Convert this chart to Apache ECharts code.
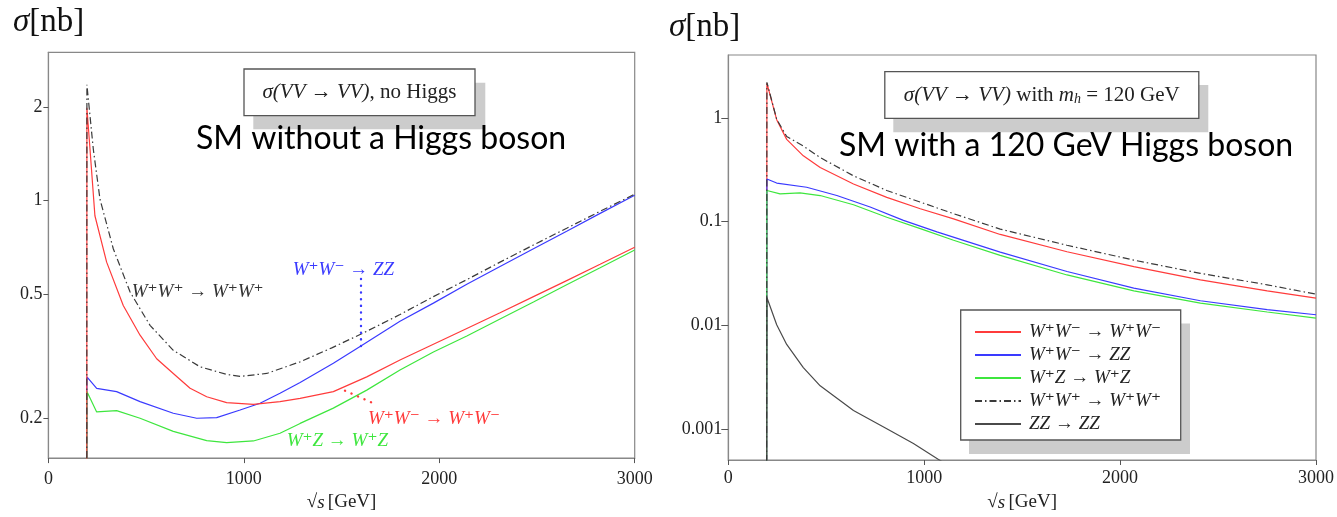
<!DOCTYPE html>
<html><head><meta charset="utf-8">
<script src="https://cdn.jsdelivr.net/npm/echarts@6/dist/echarts.min.js"></script>
<style>html,body{margin:0;padding:0;background:#fff}#c{width:1337px;height:517px}</style>
</head><body><div id="c"></div>
<script>
// ---------- tick labels ----------
const xTicks = [0, 1000, 2000, 3000];
const xTickLabels = ['0', '1000', '2000', '3000'];
const leftYTickValues = [0.2, 0.5, 1, 2];
const leftYTickLabels = ['0.2', '0.5', '1', '2'];
const rightYTickValues = [0.001, 0.01, 0.1, 1];
const rightYTickLabels = ['0.001', '0.01', '0.1', '1'];
const leftYRange = [0.1485, 3.0];
const rightYRange = [0.0005, 4.04];

// ---------- series names ----------
const names = ['W⁺W⁻ → W⁺W⁻', 'W⁺W⁻ → ZZ', 'W⁺Z → W⁺Z', 'W⁺W⁺ → W⁺W⁺', 'ZZ → ZZ'];

// ---------- left panel: SM without a Higgs boson ----------
const noH_WWWW_x = [195, 197, 213, 238, 298, 383, 469, 554, 639, 725, 810, 912, 1049, 1185, 1288, 1458, 1629, 1799, 1970, 2141, 2311, 2482, 2652, 2823, 3000];
const noH_WWWW_y = [0.0001, 1.99, 1.46, 0.894, 0.634, 0.46, 0.369, 0.310, 0.278, 0.249, 0.234, 0.224, 0.221, 0.2256, 0.231, 0.243, 0.271, 0.307, 0.345, 0.388, 0.436, 0.491, 0.553, 0.624, 0.708];

const noH_WWZZ_x = [195, 197, 247, 349, 469, 639, 759, 861, 981, 1083, 1185, 1288, 1458, 1603, 1799, 1970, 2141, 2311, 2482, 2652, 2823, 3000];
const noH_WWZZ_y = [0.0001, 0.271, 0.249, 0.243, 0.2256, 0.207, 0.1995, 0.2004, 0.212, 0.223, 0.240, 0.260, 0.300, 0.342, 0.409, 0.468, 0.538, 0.614, 0.700, 0.797, 0.910, 1.04];

const noH_WZWZ_x = [195, 197, 247, 349, 469, 639, 810, 912, 1049, 1185, 1288, 1458, 1629, 1799, 1970, 2141, 2311, 2482, 2652, 2823, 3000];
const noH_WZWZ_y = [0.0001, 0.243, 0.209, 0.211, 0.1995, 0.181, 0.169, 0.1666, 0.1686, 0.1785, 0.192, 0.215, 0.2457, 0.285, 0.326, 0.367, 0.416, 0.472, 0.536, 0.608, 0.694];

const noH_WpWp_x = [195, 197, 230, 264, 332, 418, 520, 639, 776, 912, 981, 1117, 1288, 1450, 1603, 1799, 1970, 2141, 2311, 2482, 2652, 2823, 3000];
const noH_WpWp_y = [0.0001, 2.36, 1.46, 1.01, 0.70, 0.508, 0.397, 0.330, 0.292, 0.276, 0.272, 0.278, 0.303, 0.336, 0.373, 0.430, 0.491, 0.557, 0.634, 0.720, 0.815, 0.924, 1.049];

// ---------- right panel: SM with a 120 GeV Higgs boson ----------
const H_WWWW_x = [195, 197, 247, 298, 383, 469, 639, 809, 980, 1150, 1388, 1729, 2070, 2410, 2751, 3000];
const H_WWWW_y = [0.00001, 2.16, 0.96, 0.62, 0.43, 0.332, 0.230, 0.171, 0.1327, 0.106, 0.0750, 0.0511, 0.0367, 0.0273, 0.0214, 0.0182];

const H_WWZZ_x = [195, 197, 247, 400, 554, 724, 894, 1065, 1388, 1729, 2070, 2410, 2751, 3000];
const H_WWZZ_y = [0.00001, 0.257, 0.235, 0.214, 0.178, 0.138, 0.1026, 0.0794, 0.0506, 0.0329, 0.0228, 0.0172, 0.0141, 0.0126];

const H_WZWZ_x = [195, 197, 264, 366, 469, 639, 809, 980, 1150, 1388, 1729, 2070, 2410, 2751, 3000];
const H_WZWZ_y = [0.00001, 0.199, 0.1845, 0.1886, 0.178, 0.145, 0.110, 0.0853, 0.066, 0.0471, 0.0305, 0.0214, 0.0163, 0.0134, 0.0117];

const H_WpWp_x = [195, 197, 247, 298, 383, 469, 639, 809, 980, 1150, 1388, 1729, 2070, 2410, 2751, 3000];
const H_WpWp_y = [0.00001, 2.2, 0.97, 0.66, 0.535, 0.414, 0.276, 0.199, 0.154, 0.119, 0.0844, 0.059, 0.0424, 0.0316, 0.0245, 0.0199];

const H_ZZZZ_x = [195, 197, 247, 298, 383, 469, 639, 809, 945, 1073, 1200];
const H_ZZZZ_y = [0.00001, 0.0185, 0.0101, 0.00652, 0.0039, 0.0026, 0.0015, 0.0010, 0.00072, 0.000506, 0.00036];

// ---------- styling ----------
const RED = '#ff3b3b', BLUE = '#3a3aff', GREEN = '#3ee63e', DARK = '#3a3a3a', GRAY = '#4a4a4a';
const SERIF = "'Liberation Serif','DejaVu Serif',serif";
const SANS = "Lato, 'Open Sans', sans-serif";
const DASHDOT = [7, 3, 1.5, 3];

const L = Math.log10;
const pts = (xs, ys) => xs.map((x, i) => [x, L(ys[i])]);
function tickFmt(vals, labels, useLog) {
  return v => { for (let i = 0; i < vals.length; i++) {
    const t = useLog ? L(vals[i]) : vals[i];
    if (Math.abs(t - v) < 1e-6) return labels[i]; } return ''; };
}

function mkX(gi, labelMargin) {
  return {
    gridIndex: gi, type: 'value', min: 0, max: 3000, interval: 1000,
    axisLine: { onZero: false, lineStyle: { color: '#888', width: 1.2 } },
    axisTick: { length: 5, lineStyle: { color: '#555' } },
    axisLabel: { margin: labelMargin, fontFamily: SERIF, fontSize: 18, color: '#222',
      formatter: tickFmt(xTicks, xTickLabels, false) },
    splitLine: { show: false },
    name: '{r|√}{i|s} {r|[GeV]}', nameLocation: 'middle', nameGap: 33,
    nameTextStyle: { rich: {
      r: { fontFamily: SERIF, fontSize: 19, color: '#222' },
      i: { fontFamily: SERIF, fontSize: 19, fontStyle: 'italic', color: '#222' } } }
  };
}
function mkY(gi, range, vals, labels, tickLen) {
  const lv = vals.map(L);
  return {
    gridIndex: gi, type: 'value', min: L(range[0]), max: L(range[1]),
    axisLine: { show: true, onZero: false, lineStyle: { color: '#888', width: 1.2 } },
    axisTick: { show: true, length: tickLen, customValues: lv, lineStyle: { color: '#555' } },
    axisLabel: { customValues: lv, formatter: tickFmt(vals, labels, true), margin: 6,
      fontFamily: SERIF, fontSize: 18, color: '#222' },
    splitLine: { show: false }
  };
}
function line(name, gi, xs, ys, color, dash, width) {
  return {
    name, type: 'line', xAxisIndex: gi, yAxisIndex: gi, data: pts(xs, ys),
    symbol: 'none', smooth: false, clip: true, animation: false,
    lineStyle: { color, width: width || 1.2, type: dash || 'solid' },
    itemStyle: { color }
  };
}

const mathRich = {
  i: { fontFamily: SERIF, fontStyle: 'italic', fontSize: 21, fill: '#222' },
  r: { fontFamily: SERIF, fontSize: 21, fill: '#222' },
  s: { fontFamily: SERIF, fontStyle: 'italic', fontSize: 14, fill: '#222', padding: [9, 0, 0, 0] }
};
function txt(x, y, text, font, fill, align) {
  return { type: 'text', x, y, z: 30, style: { text, font, fill, align: align || 'left', verticalAlign: 'middle' } };
}
function rect(x, y, w, h, fill, stroke, z) {
  return { type: 'rect', z: z, shape: { x, y, width: w, height: h },
    style: { fill, stroke: stroke || null, lineWidth: stroke ? 1.3 : 0 } };
}
const sigmaRich = { i: { fontFamily: SERIF, fontStyle: 'italic', fontSize: 33, fill: '#111' },
                    r: { fontFamily: SERIF, fontSize: 33, fill: '#111' } };

const chart = echarts.init(document.getElementById('c'), null, { renderer: 'canvas' });
chart.setOption({
  animation: false,
  backgroundColor: '#fff',
  grid: [
    { left: 48.4, top: 52.3, width: 586.3, height: 407, show: true, borderColor: '#888', borderWidth: 1.2 },
    { left: 728.3, top: 55, width: 590.3, height: 407.7, show: true, borderColor: '#888', borderWidth: 1.2 }
  ],
  xAxis: [mkX(0, 12), mkX(1, 9)],
  yAxis: [
    mkY(0, leftYRange, leftYTickValues, leftYTickLabels, 5),
    mkY(1, rightYRange, rightYTickValues, rightYTickLabels, 7)
  ],
  legend: {
    data: names, orient: 'vertical', left: 974, top: 322.5, itemWidth: 46, itemHeight: 2, itemGap: 4,
    padding: 0, z: 40, backgroundColor: 'transparent', selectedMode: false,
    itemStyle: { opacity: 0 },
    textStyle: { fontFamily: SERIF, fontStyle: 'italic', fontSize: 19, lineHeight: 19, color: '#222', padding: [0, 0, 0, 3] }
  },
  series: [
    line('noHiggs ' + names[1], 0, noH_WWZZ_x, noH_WWZZ_y, BLUE),
    line('noHiggs ' + names[2], 0, noH_WZWZ_x, noH_WZWZ_y, GREEN),
    line('noHiggs ' + names[0], 0, noH_WWWW_x, noH_WWWW_y, RED),
    line('noHiggs ' + names[3], 0, noH_WpWp_x, noH_WpWp_y, DARK, DASHDOT, 1.2),
    line(names[0], 1, H_WWWW_x, H_WWWW_y, RED),
    line(names[1], 1, H_WWZZ_x, H_WWZZ_y, BLUE),
    line(names[2], 1, H_WZWZ_x, H_WZWZ_y, GREEN),
    line(names[4], 1, H_ZZZZ_x, H_ZZZZ_y, GRAY),
    line(names[3], 1, H_WpWp_x, H_WpWp_y, DARK, DASHDOT, 1.2)
  ],
  graphic: { elements: [
    // sigma [nb] axis titles
    { type: 'text', x: 13, y: 22, z: 30, style: { text: '{i|σ}{r|[nb]}', verticalAlign: 'middle', rich: sigmaRich } },
    { type: 'text', x: 669, y: 27, z: 30, style: { text: '{i|σ}{r|[nb]}', verticalAlign: 'middle', rich: sigmaRich } },

    // left annotation box
    rect(253.3, 82.7, 232, 46.6, '#cccccc', null, 20),
    rect(244, 69, 231, 46.7, '#ffffff', '#555', 21),
    { type: 'text', x: 359.5, y: 92.5, z: 30, style: { text: '{i|σ(VV → VV)}{r|, no Higgs}', align: 'center', verticalAlign: 'middle', rich: mathRich } },

    // right annotation box
    rect(893.3, 85, 315, 47.3, '#cccccc', null, 20),
    rect(884.8, 71.7, 314, 46.6, '#ffffff', '#555', 21),
    { type: 'text', x: 1041.8, y: 95, z: 30, style: { text: '{i|σ(VV → VV)}{r| with }{i|m}{s|h}{r| = 120 GeV}', align: 'center', verticalAlign: 'middle', rich: mathRich } },

    // big titles
    txt(196, 139, 'SM without a Higgs boson', '32px ' + SANS, '#000'),
    txt(839, 146, 'SM with a 120 GeV Higgs boson', '32px ' + SANS, '#000'),

    // legend box (right)
    rect(969, 323.5, 221, 130.5, '#cccccc', null, 20),
    rect(960.7, 310, 220, 130, '#ffffff', '#555', 21),

    // left panel curve labels
    txt(292.7, 270, 'W⁺W⁻ → ZZ', 'italic 19px ' + SERIF, BLUE),
    txt(131.7, 291.7, 'W⁺W⁺ → W⁺W⁺', 'italic 19px ' + SERIF, '#333'),
    txt(368, 419, 'W⁺W⁻ → W⁺W⁻', 'italic 19px ' + SERIF, RED),
    txt(286.7, 440.7, 'W⁺Z → W⁺Z', 'italic 19px ' + SERIF, GREEN),
    { type: 'line', z: 30, shape: { x1: 361, y1: 279, x2: 361, y2: 346 },
      style: { stroke: BLUE, lineWidth: 2.4, lineDash: [0.1, 6.6], lineCap: 'round' } },
    { type: 'line', z: 30, shape: { x1: 345, y1: 390.7, x2: 375, y2: 404 },
      style: { stroke: RED, lineWidth: 2.4, lineDash: [0.1, 7], lineCap: 'round' } }
  ] }
});
</script></body></html>
